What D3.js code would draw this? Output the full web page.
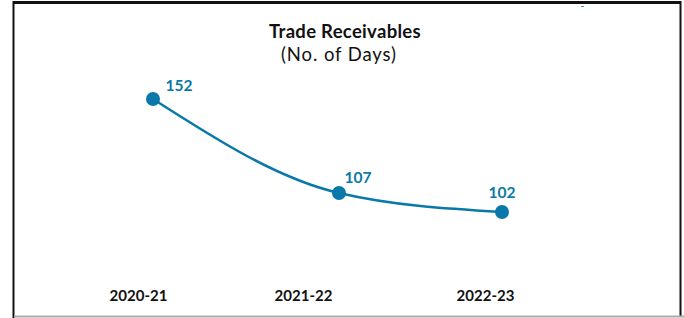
<!DOCTYPE html>
<html>
<head>
<meta charset="utf-8">
<script src="https://cdn.jsdelivr.net/npm/d3@7"></script>
<style>
  body { margin: 0; background: #fff; }
  text { font-family: Lato, "Open Sans", sans-serif; }
</style>
</head>
<body>
<script>
// chart data
var years = ["2020-21", "2021-22", "2022-23"];
var days = [152, 107, 102];

var width = 684, height = 318;
var blue = "#0a78a8";

var svg = d3.select("body").append("svg")
  .attr("width", width)
  .attr("height", height);

// frame around the chart
svg.append("line").attr("x1", 13).attr("x2", 681).attr("y1", 2.5).attr("y2", 2.5)
  .attr("stroke", "#111").attr("stroke-width", 3);
svg.append("line").attr("x1", 13.5).attr("x2", 13.5).attr("y1", 1).attr("y2", 318)
  .attr("stroke", "#111").attr("stroke-width", 2);
svg.append("line").attr("x1", 680.5).attr("x2", 680.5).attr("y1", 1).attr("y2", 316)
  .attr("stroke", "#111").attr("stroke-width", 2);
svg.append("line").attr("x1", 14).attr("x2", 684).attr("y1", 316.5).attr("y2", 316.5)
  .attr("stroke", "#aaa").attr("stroke-width", 2);
svg.append("rect").attr("x", 581).attr("y", 6).attr("width", 3).attr("height", 1)
  .attr("fill", "#4a9a8a");

// title
svg.append("text").attr("x", 345).attr("y", 38).attr("text-anchor", "middle")
  .style("font-size", "18.5px").style("font-weight", "bold")
  .style("letter-spacing", "0.3px").attr("fill", "#111")
  .text("Trade Receivables");
svg.append("text").attr("x", 339).attr("y", 61).attr("text-anchor", "middle")
  .style("font-size", "18.5px").style("letter-spacing", "0.9px").attr("fill", "#111")
  .text("(No. of Days)");

// scales (points and category labels sit a bit apart in the original)
var x = d3.scaleLinear().domain([0, 1, 2]).range([153, 339, 502]);
var xLabel = d3.scaleLinear().domain([0, 1, 2]).range([138, 303, 485]);
var y = d3.scaleLinear().domain([102, 107, 152]).range([212, 193, 99]);

var xAxis = d3.axisBottom(xLabel)
  .tickValues([0, 1, 2])
  .tickFormat(i => years[i])
  .tickSize(0).tickPadding(0);
svg.append("g")
  .attr("transform", "translate(0,290)")
  .call(xAxis)
  .call(g => g.select(".domain").remove())
  .selectAll("text")
    .attr("dy", "0.71em")
    .style("font-size", "15px")
    .style("font-weight", "bold")
    .style("font-family", "Lato, sans-serif")
    .attr("fill", "#111");

var line = d3.line()
  .x((d, i) => x(i))
  .y(d => y(d))
  .curve(d3.curveMonotoneX);

svg.append("path")
  .datum(days)
  .attr("d", line)
  .attr("fill", "none")
  .attr("stroke", blue)
  .attr("stroke-width", 2.5);

svg.selectAll("circle")
  .data(days)
  .enter().append("circle")
    .attr("cx", (d, i) => x(i))
    .attr("cy", d => y(d))
    .attr("r", 7)
    .attr("fill", blue);

// value labels
var labelDx = [26, 19, 0];
var labelDy = [-8, -10, -14];
svg.selectAll(".val")
  .data(days)
  .enter().append("text")
    .attr("class", "val")
    .attr("x", (d, i) => x(i) + labelDx[i])
    .attr("y", (d, i) => y(d) + labelDy[i])
    .attr("text-anchor", "middle")
    .style("font-size", "15.5px")
    .style("font-weight", "bold")
    .attr("fill", blue)
    .text(d => d);
</script>
</body>
</html>
